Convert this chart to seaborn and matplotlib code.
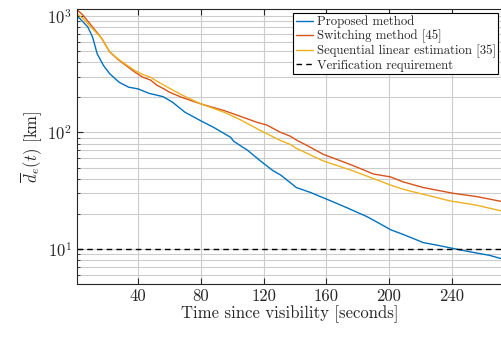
import matplotlib
matplotlib.use("Agg")
import matplotlib.pyplot as plt
import seaborn as sns
import pandas as pd
import numpy as np

# Values (time in s, distance in km)
t_proposed = [1, 3, 8, 11, 14, 18, 22, 28, 34, 40, 47, 56, 62, 70, 80, 88, 96, 99, 101,
              110, 118, 126, 131, 141, 150, 158, 163, 173, 186, 194, 201, 209, 222, 230,
              239, 247, 256, 264, 272]
d_proposed = [1000, 950, 807, 662, 474, 376, 319, 270, 245, 237, 217, 203, 182, 149, 126,
              111, 96, 91, 84, 70, 57, 47, 43, 33.6, 30.5, 27.5, 25.8, 22.6, 18.9, 16.5,
              14.6, 13.3, 11.3, 10.8, 10.2, 9.7, 9.2, 8.8, 8.2]

t_switching = [1, 5, 11, 17, 22, 28, 38, 43, 48, 52, 57, 60, 68, 80, 95, 105, 116, 122,
               131, 137, 141, 148, 158, 177, 190, 201, 209, 222, 241, 256, 272]
d_switching = [1138, 1016, 807, 640, 491, 416, 330, 299, 282, 255, 235, 222, 200, 176, 154,
               138, 122, 116, 100, 93, 86, 77, 65, 52, 44, 41.5, 37.6, 33.6, 30, 28.1, 25.5]

t_sequential = [1, 5, 11, 17, 22, 28, 38, 43, 48, 52, 60, 68, 80, 95, 105, 118, 131, 137,
                141, 158, 177, 201, 209, 222, 239, 256, 272]
d_sequential = [1051, 952, 780, 640, 491, 421, 340, 315, 298, 276, 240, 210, 176, 149, 129,
                104, 85, 79, 73, 57, 46.8, 35.3, 32.5, 29.4, 25.8, 23.7, 21.1]

requirement = 10
labels = ["Proposed method", "Switching method [45]",
          "Sequential linear estimation [35]", "Verification requirement"]
colors = ["#0072BD", "#D95319", "#EDB120"]
x_ticks = [40, 80, 120, 160, 200, 240]

sns.set_style("ticks")
plt.rcParams["font.family"] = "cmr10"
plt.rcParams["mathtext.fontset"] = "cm"
plt.rcParams["axes.formatter.use_mathtext"] = True

fig = plt.figure(figsize=(5.02, 3.40), dpi=100)
ax = fig.add_axes([0.153, 0.165, 0.847, 0.8085])

series = [(t_proposed, d_proposed), (t_switching, d_switching), (t_sequential, d_sequential)]
for (t, d), lab, c in zip(series, labels[:3], colors):
    df = pd.DataFrame({"t": t, "d": d})
    sns.lineplot(data=df, x="t", y="d", color=c, lw=1.0, label=lab, ax=ax)

ax.axhline(requirement, color="black", ls=(0, (4, 3)), lw=1.0, label=labels[3])

ax.set_yscale("log")
ax.set_xlim(1, 272)
ax.set_ylim(5, 1150)
ax.set_xticks(x_ticks)
ax.set_xticklabels([str(v) for v in x_ticks])

ax.grid(True, which="major", color="#cccccc", lw=0.8)
ax.grid(True, which="minor", axis="y", color="#cccccc", lw=0.8)
ax.set_axisbelow(True)

ax.tick_params(which="both", direction="in", top=True, right=False, labelsize=12,
               colors="#262626", labelcolor="#262626")
ax.tick_params(which="major", length=4)
ax.tick_params(which="minor", length=2)
for s in ["left", "bottom", "top"]:
    ax.spines[s].set_color("#262626")
    ax.spines[s].set_linewidth(0.8)
ax.spines["right"].set_visible(False)

ax.set_xlabel("Time since visibility [seconds]", fontsize=12, color="#262626", labelpad=1)
ax.set_ylabel(r"$\overline{d}_e(t)$ [km]", fontsize=12, color="#262626", labelpad=2)

leg = ax.legend(loc="upper right", fontsize=9.2, frameon=True, fancybox=False,
                edgecolor="black", framealpha=1, handlelength=1.4, handletextpad=0.25,
                borderpad=0.2, labelspacing=0.12, borderaxespad=0.3)
leg.get_frame().set_linewidth(0.8)

fig.savefig("out.png", dpi=100)
